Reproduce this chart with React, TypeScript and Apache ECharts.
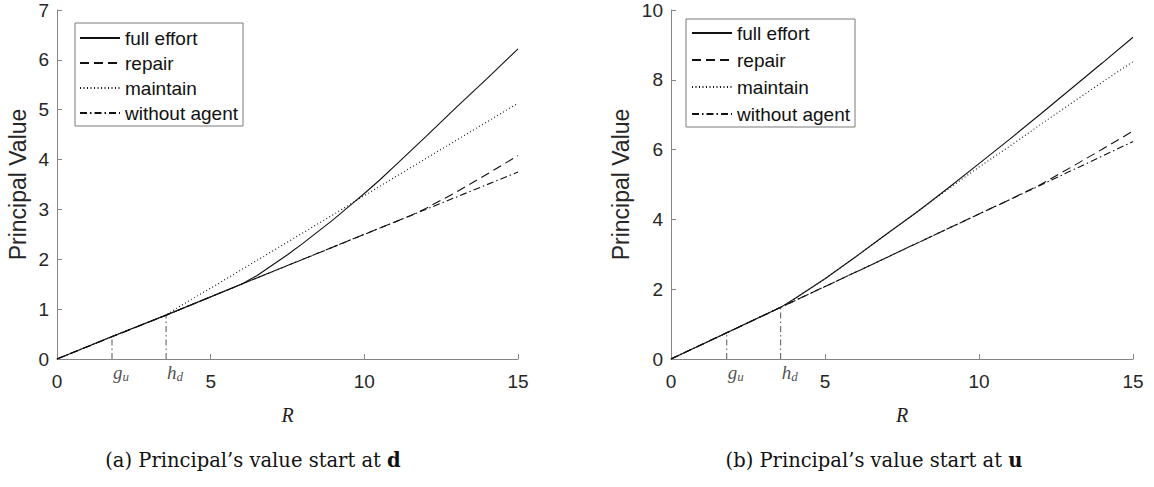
import React, { useEffect, useRef } from "react";
import * as echarts from "echarts";

// ---------- data (panel a: start at d) ----------
const LEGEND_NAMES = ["full effort", "repair", "maintain", "without agent"];

const R_FULL_A = [0, 1.79, 3.55, 6, 6.5, 7, 7.5, 8, 8.5, 9, 9.5, 10, 10.5, 11, 11.5, 12, 13, 14, 15];
const V_FULL_A = [0, 0.45, 0.88, 1.5, 1.67, 1.88, 2.09, 2.32, 2.56, 2.8, 3.06, 3.32, 3.59, 3.88, 4.17, 4.46, 5.05, 5.63, 6.22];
const R_REPAIR_A = [0, 3.55, 6, 11, 11.5, 12, 13, 14, 15];
const V_REPAIR_A = [0, 0.88, 1.5, 2.75, 2.875, 3.02, 3.35, 3.71, 4.08];
const R_MAINTAIN_A = [0, 1.79, 3.55, 4, 5, 7, 9, 11, 13, 15];
const V_MAINTAIN_A = [0, 0.45, 0.88, 1.06, 1.42, 2.16, 2.9, 3.65, 4.39, 5.13];
const R_WITHOUT_A = [0, 1.79, 3.55, 6, 9, 12, 15];
const V_WITHOUT_A = [0, 0.45, 0.88, 1.5, 2.25, 3.0, 3.75];
const GU_A = [1.79, 0.45];
const HD_A = [3.55, 0.88];

// ---------- data (panel b: start at u) ----------
const R_FULL_B = [0, 1.81, 3.56, 4, 5, 6, 7, 8, 9, 10, 11, 12, 13, 14, 15];
const V_FULL_B = [0, 0.75, 1.48, 1.72, 2.3, 2.93, 3.58, 4.22, 4.9, 5.6, 6.3, 7.02, 7.75, 8.48, 9.22];
const R_REPAIR_B = [0, 3.56, 6, 9, 11, 12, 13, 14, 15];
const V_REPAIR_B = [0, 1.48, 2.49, 3.74, 4.57, 5.0, 5.5, 6.01, 6.53];
const R_MAINTAIN_B = [0, 1.81, 3.56, 4, 5, 6, 7, 8, 9, 10, 11, 12, 13, 14, 15];
const V_MAINTAIN_B = [0, 0.75, 1.48, 1.72, 2.3, 2.93, 3.58, 4.22, 4.87, 5.5, 6.1, 6.72, 7.33, 7.93, 8.52];
const R_WITHOUT_B = [0, 1.81, 3.56, 6, 9, 12, 15];
const V_WITHOUT_B = [0, 0.75, 1.48, 2.49, 3.74, 4.98, 6.23];
const GU_B = [1.81, 0.75];
const HD_B = [3.56, 1.48];

const X_MIN = 0, X_MAX = 15, X_INTERVAL = 5;
const Y_MAX_A = 7, Y_INTERVAL_A = 1;
const Y_MAX_B = 10, Y_INTERVAL_B = 2;

const zip = (xs: number[], ys: number[]) => xs.map((x, i) => [x, ys[i]]);

const SANS = "Liberation Sans, Arial, sans-serif";
const SERIF = "Liberation Serif, Times New Roman, serif";
const CAPTION_SERIF = "DejaVu Serif, serif";
const AXIS_COLOR = "#858585";
const TEXT_COLOR = "#262626";
const LINE_COLOR = "#111";

const STYLES: Record<string, any> = {
  "full effort": "solid",
  repair: [9, 5],
  maintain: [1, 2.5],
  "without agent": [7, 3, 1.5, 3],
};

function lineSeries(name: string, data: number[][], idx: number) {
  return {
    name,
    type: "line",
    xAxisIndex: idx,
    yAxisIndex: idx,
    data,
    symbol: "none",
    showSymbol: false,
    smooth: false,
    lineStyle: { color: LINE_COLOR, width: 1.1, type: STYLES[name] },
    itemStyle: { color: LINE_COLOR },
    z: 3,
  };
}

function dropLine(pt: number[], idx: number) {
  return {
    type: "line",
    name: "_drop",
    xAxisIndex: idx,
    yAxisIndex: idx,
    data: [[pt[0], 0], [pt[0], pt[1]]],
    symbol: "none",
    lineStyle: { color: "#555", width: 1, type: [6, 3, 1.5, 3] },
    z: 2,
    silent: true,
  };
}

const subRich = {
  v: { fontFamily: SERIF, fontStyle: "italic", fontSize: 19, color: "#222" },
  s: { fontFamily: SERIF, fontStyle: "italic", fontSize: 13, color: "#222", padding: [9, 0, 0, 0] },
};

function markLabel(pt: number[], sym: string, sub: string, idx: number) {
  return {
    type: "scatter",
    name: "_lbl",
    xAxisIndex: idx,
    yAxisIndex: idx,
    data: [[pt[0], 0]],
    symbolSize: 0,
    silent: true,
    label: {
      show: true,
      position: [1, 2],
      align: "left",
      verticalAlign: "top",
      formatter: `{v|${sym}}{s|${sub}}`,
      rich: subRich,
    },
  };
}

function xAxis(idx: number) {
  return {
    gridIndex: idx,
    type: "value",
    min: X_MIN,
    max: X_MAX,
    interval: X_INTERVAL,
    axisLine: { show: true, onZero: false, lineStyle: { color: AXIS_COLOR, width: 1 } },
    axisTick: { show: true, inside: true, length: 5, lineStyle: { color: AXIS_COLOR } },
    splitLine: { show: false },
    axisLabel: { fontSize: 19, color: TEXT_COLOR, fontFamily: SANS, margin: 13 },
    name: "R",
    nameLocation: "middle",
    nameGap: 46,
    nameTextStyle: { fontFamily: SERIF, fontStyle: "italic", fontSize: 20, color: "#222" },
  };
}

function yAxis(idx: number, max: number, interval: number, gap: number) {
  return {
    gridIndex: idx,
    type: "value",
    min: 0,
    max,
    interval,
    axisLine: { show: true, onZero: false, lineStyle: { color: AXIS_COLOR, width: 1 } },
    axisTick: { show: true, inside: true, length: 5, lineStyle: { color: AXIS_COLOR } },
    splitLine: { show: false },
    axisLabel: { fontSize: 19, color: TEXT_COLOR, fontFamily: SANS, margin: 8 },
    name: "Principal Value",
    nameLocation: "middle",
    nameGap: gap,
    nameTextStyle: { fontFamily: SANS, fontSize: 23, color: TEXT_COLOR },
  };
}

function legend(left: number, top: number, gap: number, padding: number[]) {
  return {
    left,
    top,
    orient: "vertical",
    itemWidth: 40,
    itemHeight: 14,
    itemGap: gap,
    padding,
    borderColor: "#7a7a7a",
    borderWidth: 1,
    backgroundColor: "#fff",
    selectedMode: false,
    data: LEGEND_NAMES,
    itemStyle: { opacity: 0, borderWidth: 0 },
    textStyle: { fontSize: 19, lineHeight: 20, color: "#111", fontFamily: SANS },
  };
}

export default function App() {
  const ref = useRef<HTMLDivElement>(null);
  useEffect(() => {
    document.body.style.margin = "0";
    if (!ref.current) return;
    const chart = echarts.init(ref.current, undefined, { renderer: "svg" });
    const series: any[] = [
      dropLine(GU_A, 0),
      dropLine(HD_A, 0),
      dropLine(GU_B, 1),
      dropLine(HD_B, 1),
      markLabel(GU_A, "g", "u", 0),
      markLabel(HD_A, "h", "d", 0),
      markLabel(GU_B, "g", "u", 1),
      markLabel(HD_B, "h", "d", 1),
      lineSeries("without agent", zip(R_WITHOUT_A, V_WITHOUT_A), 0),
      lineSeries("repair", zip(R_REPAIR_A, V_REPAIR_A), 0),
      lineSeries("maintain", zip(R_MAINTAIN_A, V_MAINTAIN_A), 0),
      lineSeries("full effort", zip(R_FULL_A, V_FULL_A), 0),
      lineSeries("without agent", zip(R_WITHOUT_B, V_WITHOUT_B), 1),
      lineSeries("repair", zip(R_REPAIR_B, V_REPAIR_B), 1),
      lineSeries("maintain", zip(R_MAINTAIN_B, V_MAINTAIN_B), 1),
      lineSeries("full effort", zip(R_FULL_B, V_FULL_B), 1),
    ];
    const caption = (x: number, text: string) => ({
      type: "text",
      x,
      y: 460,
      style: {
        text,
        fontFamily: CAPTION_SERIF,
        fontSize: 19.5,
        fill: "#111",
        align: "center",
        verticalAlign: "middle",
        rich: { b: { fontFamily: CAPTION_SERIF, fontWeight: "bold", fontSize: 19.5, fill: "#111" } },
      },
    });
    chart.setOption({
      animation: false,
      backgroundColor: "#fff",
      grid: [
        { left: 57, top: 10, width: 461, height: 349 },
        { left: 671, top: 10, width: 462, height: 349 },
      ],
      xAxis: [xAxis(0), xAxis(1)],
      yAxis: [yAxis(0, Y_MAX_A, Y_INTERVAL_A, 28), yAxis(1, Y_MAX_B, Y_INTERVAL_B, 39)],
      legend: [legend(75, 23, 5, [5, 5, 3, 4]), legend(686, 19, 7, [4, 5, 3, 5])],
      graphic: [
        caption(253, "(a) Principal’s value start at {b|d}"),
        caption(874, "(b) Principal’s value start at {b|u}"),
      ],
      series,
    });
    return () => chart.dispose();
  }, []);
  return <div ref={ref} style={{ width: 1154, height: 487 }} />;
}
